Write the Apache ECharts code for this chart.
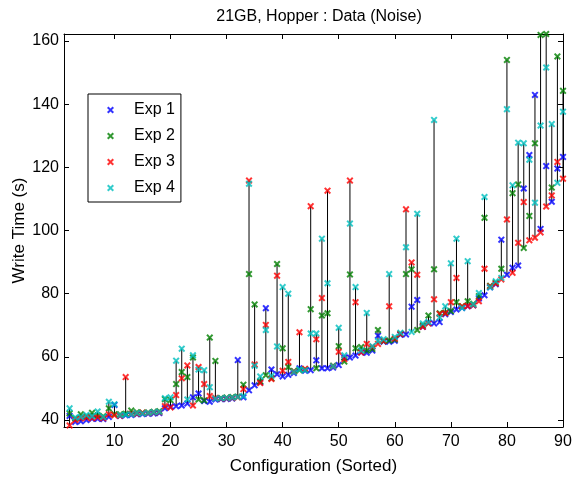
<!DOCTYPE html>
<html>
<head>
<meta charset="utf-8">
<script src="https://cdn.jsdelivr.net/npm/echarts@6/dist/echarts.min.js"></script>
<style>html,body{margin:0;padding:0;background:#fff}#c{width:573px;height:478px}</style>
</head>
<body>
<div id="c"></div>
<script>
const configs = [2,3,4,5,6,7,8,9,10,11,12,13,14,15,16,17,18,19,20,21,22,23,24,25,26,27,28,29,30,31,32,33,34,35,36,37,38,39,40,41,42,43,44,45,46,47,48,49,50,51,52,53,54,55,56,57,58,59,60,61,62,63,64,65,66,67,68,69,70,71,72,73,74,75,76,77,78,79,80,81,82,83,84,85,86,87,88,89,90];
const exp1 = [41.3,39.4,39.6,40.0,40.4,40.4,40.3,41.0,44.8,41.3,
41.5,41.6,41.8,41.9,42.0,42.1,42.2,43.7,44.2,44.4,
44.6,45.2,47.2,48.4,46.0,45.8,46.5,46.6,46.7,46.8,
59.0,47.2,49.4,51.0,52.0,75.4,56.0,54.5,53.8,54.3,
54.9,56.4,55.6,55.8,58.9,56.4,56.4,56.6,57.4,59.8,
59.8,60.4,61.4,61.3,62.0,66.7,64.8,64.8,65.1,67.0,
67.1,75.9,78.0,69.5,70.8,70.6,71.0,73.5,74.2,75.0,
75.5,76.0,76.3,78.5,79.5,82.0,83.0,97.1,86.0,88.2,
88.9,113.3,123.9,142.9,100.5,120.4,109.1,119.6,123.3];
const exp2 = [42.1,40.5,41.8,41.2,42.3,41.5,41.2,43.7,41.8,41.8,
42.0,43.0,42.5,42.3,42.4,42.6,42.8,46.6,46.3,51.4,
55.2,53.6,59.8,46.5,46.2,66.1,58.7,47.0,47.1,47.3,
47.4,51.2,86.2,76.6,52.2,54.2,53.2,89.4,62.7,56.8,
55.5,55.8,56.0,75.1,56.4,73.1,73.8,57.2,63.4,58.5,
86.1,62.7,63.1,62.0,62.5,68.5,65.0,65.2,65.5,67.3,
86.2,87.7,68.5,70.0,73.1,87.7,73.8,74.0,74.5,77.3,
76.0,77.6,76.8,79.2,104.0,82.5,83.5,87.9,154.0,111.8,
114.6,94.5,104.6,127.6,161.9,162.2,113.6,155.1,144.2];
const exp3 = [38.3,40.0,40.5,40.8,40.6,40.9,40.6,41.8,41.5,41.4,
53.6,42.0,42.0,42.3,42.2,42.4,42.5,44.4,44.0,47.9,
53.2,57.3,44.6,56.8,51.4,47.6,47.0,46.8,46.9,47.0,
47.2,49.8,115.8,57.6,51.7,70.1,53.0,85.7,55.6,58.4,
55.3,67.8,56.2,107.7,65.6,78.6,112.6,57.0,61.6,59.3,
115.8,77.3,61.4,64.1,63.2,64.1,65.0,76.0,65.8,67.2,
106.7,89.9,86.0,69.5,70.6,78.2,73.6,73.8,77.3,85.0,
76.0,76.1,76.3,77.6,87.9,82.3,83.2,84.5,103.5,86.6,
96.1,109.0,96.9,97.7,99.4,107.6,111.1,121.7,116.4];
const exp4 = [43.7,40.8,41.0,41.6,41.2,42.7,41.0,45.8,45.0,41.6,
41.7,41.8,42.2,42.1,42.3,42.5,42.6,46.9,47.2,58.8,
62.6,46.5,60.5,56.0,55.8,50.4,46.8,46.9,47.0,47.1,
47.3,47.6,114.8,57.2,53.8,68.5,54.0,63.3,82.1,80.0,
55.2,56.0,55.8,67.4,67.4,97.4,83.3,57.0,69.2,60.5,
102.2,82.1,62.0,73.9,63.4,65.0,65.6,86.2,66.3,67.6,
94.7,67.9,105.3,70.6,71.0,135.0,72.5,76.0,89.6,97.4,
75.5,90.3,76.6,80.2,110.6,82.0,83.9,85.0,138.4,114.3,
127.8,127.6,122.4,108.8,133.2,151.6,133.7,115.1,137.6];
const seriesNames = ['Exp 1','Exp 2','Exp 3','Exp 4'];
const xTicks = [10,20,30,40,50,60,70,80,90];
const yTicks = [40,60,80,100,120,140,160];

const colors = ['#0000ff','#008000','#ff0000','#00bfbf'];
const FONT = 'Liberation Sans, Arial, Helvetica, sans-serif';
const X_SYM = 'path://M0,2L2,0L5,3L8,0L10,2L7,5L10,8L8,10L5,7L2,10L0,8L3,5Z';
const allExp = [exp1, exp2, exp3, exp4];

const rangeData = configs.map((c, i) => {
  const vals = allExp.map(a => a[i]);
  return [c, Math.min(...vals), Math.max(...vals)];
});

const X_MIN = 1, X_MAX = 90, Y_MIN = 37.8, Y_MAX = 162.2;
const tickStyle = { inside: true, length: 5, lineStyle: { color: '#000', width: 1 } };
const lineStyle = { lineStyle: { color: '#000', width: 1 } };

const chart = echarts.init(document.getElementById('c'), null, { renderer: 'canvas' });
chart.setOption({
  animation: false,
  backgroundColor: '#fff',
  title: {
    text: '21GB, Hopper : Data (Noise)',
    left: 314, top: 4, textAlign: 'center',
    textStyle: { fontFamily: FONT, fontSize: 16, fontWeight: 'normal', color: '#000' }
  },
  grid: { left: 64, right: 10, top: 34, bottom: 51, containLabel: false, outerBoundsMode: 'none' },
  legend: {
    orient: 'vertical', left: 88, top: 94,
    backgroundColor: '#fff', borderColor: '#000', borderWidth: 1,
    padding: [8, 6, 6, 19], itemWidth: 7, itemHeight: 7, itemGap: 10,
    textStyle: { fontFamily: FONT, fontSize: 16, color: '#000', padding: [0, 0, 0, 15], lineHeight: 16 },
    data: seriesNames.map(n => ({ name: n, icon: X_SYM }))
  },
  xAxis: [{
    type: 'value', min: X_MIN, max: X_MAX, position: 'bottom',
    name: 'Configuration (Sorted)', nameLocation: 'middle', nameGap: 31,
    nameTextStyle: { fontFamily: FONT, fontSize: 17, color: '#000' },
    axisLine: lineStyle, splitLine: { show: false },
    axisTick: Object.assign({ customValues: xTicks }, tickStyle),
    axisLabel: { customValues: xTicks, fontFamily: FONT, fontSize: 16, color: '#000', margin: 7 }
  }, {
    type: 'value', min: X_MIN, max: X_MAX, position: 'top',
    axisLine: lineStyle, splitLine: { show: false },
    axisTick: Object.assign({ customValues: xTicks }, tickStyle),
    axisLabel: { show: false }
  }],
  yAxis: [{
    type: 'value', min: Y_MIN, max: Y_MAX, position: 'left',
    name: 'Write Time (s)', nameLocation: 'middle', nameGap: 36, nameRotate: 90,
    nameMoveOverlap: false,
    nameTextStyle: { fontFamily: FONT, fontSize: 17, color: '#000' },
    axisLine: lineStyle, splitLine: { show: false },
    axisTick: Object.assign({ customValues: yTicks }, tickStyle),
    axisLabel: { customValues: yTicks, fontFamily: FONT, fontSize: 16, color: '#000', margin: 5 }
  }, {
    type: 'value', min: Y_MIN, max: Y_MAX, position: 'right',
    axisLine: lineStyle, splitLine: { show: false },
    axisTick: Object.assign({ customValues: yTicks }, tickStyle),
    axisLabel: { show: false }
  }],
  series: [{
    type: 'custom', name: 'range', xAxisIndex: 0, yAxisIndex: 0, z: 1,
    data: rangeData, silent: true,
    renderItem: function (params, api) {
      const p1 = api.coord([api.value(0), api.value(1)]);
      const p2 = api.coord([api.value(0), api.value(2)]);
      return { type: 'line', shape: { x1: p1[0], y1: p1[1], x2: p2[0], y2: p2[1] },
               style: { stroke: '#000', lineWidth: 1 } };
    }
  }].concat(allExp.map((arr, k) => ({
    type: 'scatter', name: seriesNames[k], xAxisIndex: 0, yAxisIndex: 0, z: 2,
    symbol: X_SYM, symbolSize: 7,
    itemStyle: { color: colors[k] },
    data: configs.map((c, i) => [c, arr[i]])
  })))
});
</script>
</body>
</html>
